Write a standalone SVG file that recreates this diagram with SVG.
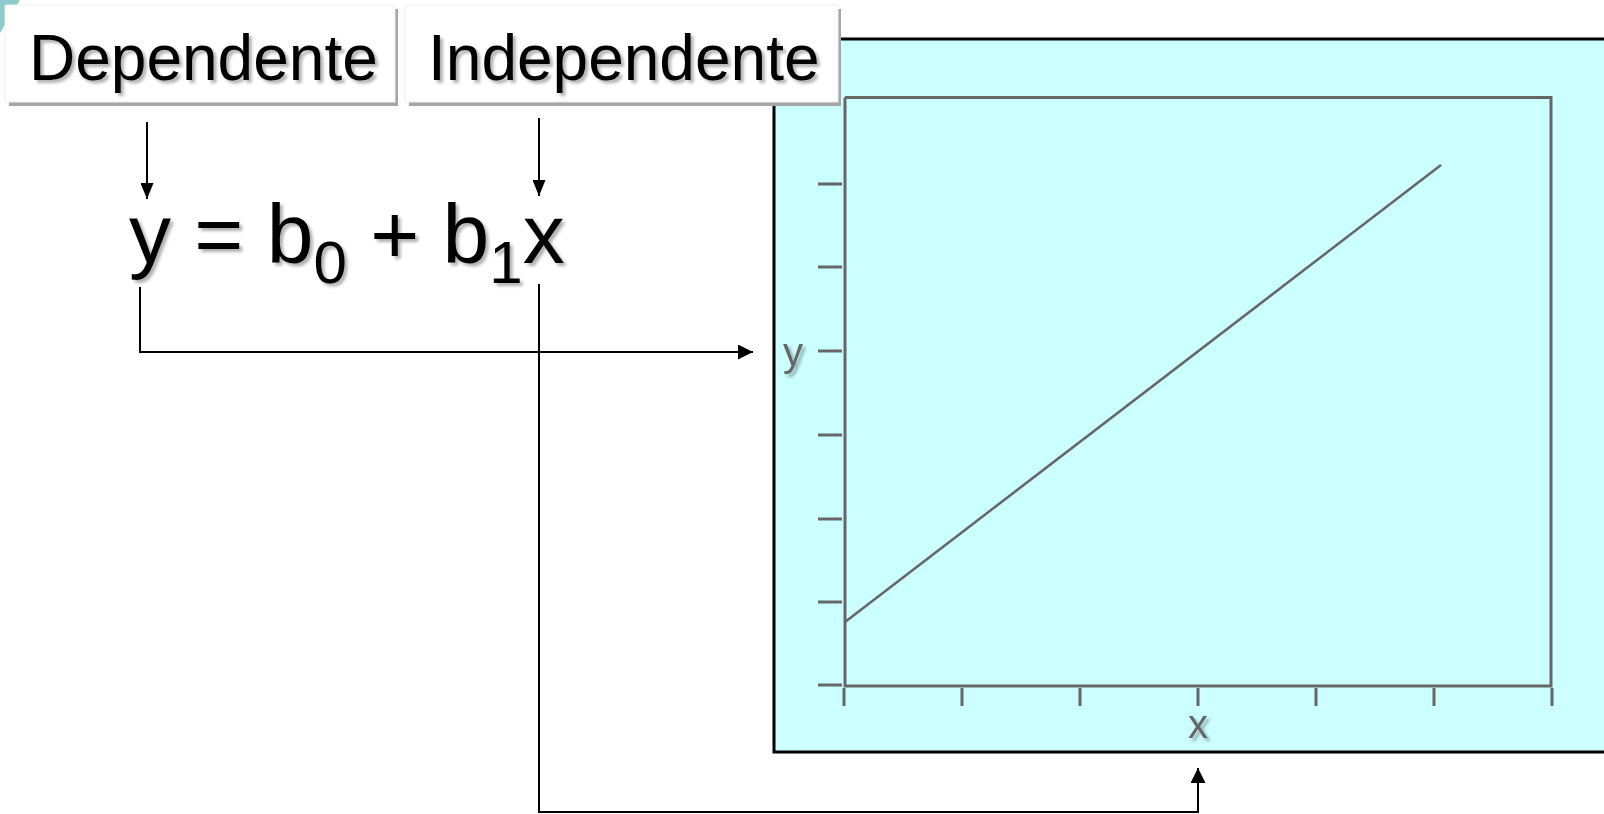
<svg xmlns="http://www.w3.org/2000/svg" width="1604" height="814" viewBox="0 0 1604 814">
<style>
.lbl{font-family:"Liberation Sans",Arial,sans-serif;font-size:64px;fill:#000}
.eq{font-family:"Liberation Sans",Arial,sans-serif;font-size:84px;fill:#000}
.ax{font-family:"Liberation Sans",Arial,sans-serif;font-size:40px;fill:#666}
.conn{stroke:#000;stroke-width:2;fill:none}
.gr{stroke:#666;stroke-width:3;fill:none}
.box{fill:#fff;stroke:#eeeeee;stroke-width:1}
.shadowbox{fill:#a6a6a6}
</style>
<defs>
<filter id="ts" x="-10%" y="-10%" width="130%" height="140%">
<feDropShadow dx="3" dy="3" stdDeviation="1.5" flood-color="#000" flood-opacity="0.3"/>
</filter>
<marker id="ah" viewBox="0 0 10 10" refX="10" refY="5" markerWidth="16" markerHeight="13" markerUnits="userSpaceOnUse" orient="auto" preserveAspectRatio="none">
<path d="M0,0 L10,5 L0,10 z" fill="#000"/>
</marker>
<marker id="ahl" viewBox="0 0 10 10" refX="10" refY="5" markerWidth="15" markerHeight="15" markerUnits="userSpaceOnUse" orient="auto">
<path d="M0,0 L10,5 L0,10 z" fill="#000"/>
</marker>
</defs>
<rect width="1604" height="814" fill="#fff"/>
<polygon points="0,0 20,0 0,33" fill="#8ccbcb"/>

<g id="chart">
<rect x="774" y="39" width="840" height="713" fill="#ccffff" stroke="#000" stroke-width="3"/>
<polyline class="gr" points="845,97.5 1551,97.5 1551,686 845,686 845,97.5"/>
<g class="gr">
<line x1="818" y1="184" x2="842" y2="184"/>
<line x1="818" y1="267" x2="842" y2="267"/>
<line x1="818" y1="351" x2="842" y2="351"/>
<line x1="818" y1="435" x2="842" y2="435"/>
<line x1="818" y1="519" x2="842" y2="519"/>
<line x1="818" y1="602" x2="842" y2="602"/>
<line x1="818" y1="685" x2="842" y2="685"/>
<line x1="844" y1="688" x2="844" y2="706"/>
<line x1="962" y1="688" x2="962" y2="706"/>
<line x1="1080" y1="688" x2="1080" y2="706"/>
<line x1="1198" y1="688" x2="1198" y2="706"/>
<line x1="1316" y1="688" x2="1316" y2="706"/>
<line x1="1434" y1="688" x2="1434" y2="706"/>
<line x1="1552" y1="688" x2="1552" y2="706"/>
</g>
<line x1="845" y1="622" x2="1441" y2="165" stroke="#666" stroke-width="2.5"/>
<text class="ax" x="793" y="366" text-anchor="middle" filter="url(#ts)">y</text>
<text class="ax" x="1198" y="738" text-anchor="middle" filter="url(#ts)">x</text>
</g>

<g id="dependente">
<rect class="shadowbox" x="9" y="9" width="389" height="97"/>
<rect class="box" x="5" y="5" width="390" height="97"/>
<text class="lbl" x="29" y="80" filter="url(#ts)">Dependente</text>
</g>

<g id="independente">
<rect class="shadowbox" x="409" y="9" width="432" height="97"/>
<rect class="box" x="405" y="5" width="433" height="97"/>
<text class="lbl" x="428" y="80" filter="url(#ts)">Independente</text>
</g>

<g id="equation">
<text class="eq" x="129" y="263" filter="url(#ts)">y = b<tspan font-size="60" dy="20">0</tspan><tspan dy="-20"> + b</tspan><tspan font-size="60" dy="20">1</tspan><tspan dy="-20">x</tspan></text>
</g>

<g id="connectors">
<line class="conn" x1="147" y1="122" x2="147" y2="199" marker-end="url(#ah)"/>
<line class="conn" x1="539" y1="118" x2="539" y2="196" marker-end="url(#ah)"/>
<polyline class="conn" points="140,287 140,352 753,352" marker-end="url(#ahl)"/>
<polyline class="conn" points="539,284 539,812 1198,812 1198,768" marker-end="url(#ahl)"/>
</g>
</svg>
